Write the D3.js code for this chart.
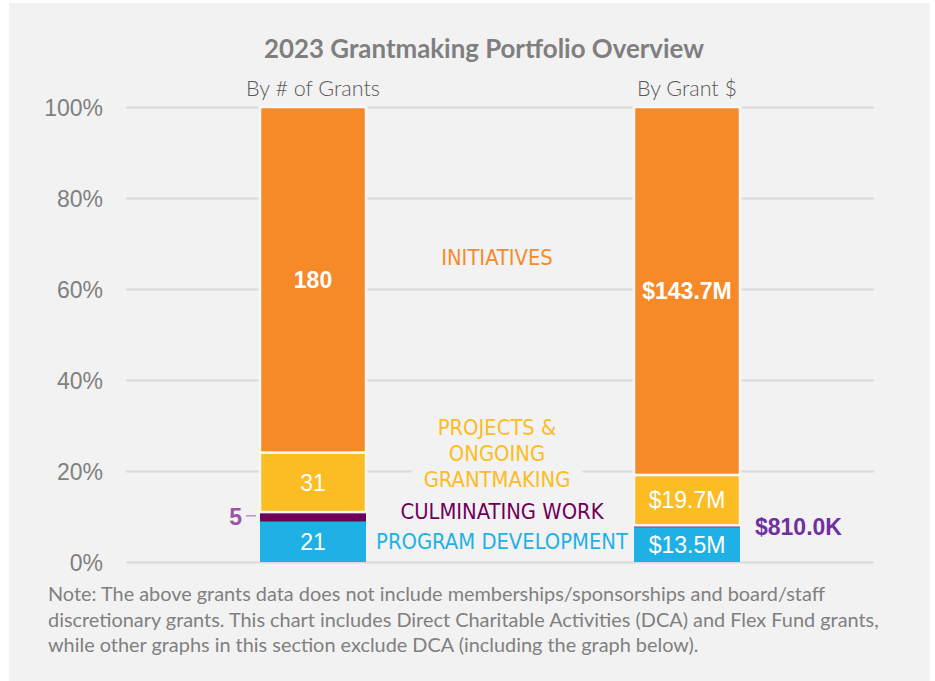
<!DOCTYPE html>
<html>
<head>
<meta charset="utf-8">
<script src="https://cdn.jsdelivr.net/npm/d3@7"></script>
<style type="text/css">
    body{ margin: 0; background: #fff }
    .grid line{ stroke: #d9d9d9; stroke-width: 2 }
    .grid text{ fill: #808080; font-family: "Liberation Sans", Arial, sans-serif; font-size: 23px }
</style>
</head>

<body>
<script type="text/javascript">
var width = 935,
    height = 681;

// data
var columns = ['By # of Grants', 'By Grant $'];
var categories = ['PROGRAM DEVELOPMENT', 'CULMINATING WORK', 'PROJECTS & ONGOING GRANTMAKING', 'INITIATIVES'];
var grantCounts = [21, 5, 31, 180];
var grantDollars = [13.5, 0.81, 19.7, 143.7];   // $M
var countLabels = ['21', '5', '31', '180'];
var dollarLabels = ['$13.5M', '$810.0K', '$19.7M', '$143.7M'];
var yTicks = [0, 0.2, 0.4, 0.6, 0.8, 1];
var titleText = '2023 Grantmaking Portfolio Overview';
var noteLines = [
    'Note: The above grants data does not include memberships/sponsorships and board/staff',
    'discretionary grants. This chart includes Direct Charitable Activities (DCA) and Flex Fund grants,',
    'while other graphs in this section exclude DCA (including the graph below).'
];

var colors = ['#1fb1e6', '#6e005a', '#fcbc23', '#f68a28'];
var catLines = [['PROGRAM DEVELOPMENT'], ['CULMINATING WORK'], ['PROJECTS &', 'ONGOING', 'GRANTMAKING'], ['INITIATIVES']];
var catAt = [0.046, 0.112, 0.24, 0.67];   // where each category name sits on the % axis

var table = columns.map(function(c, i){
    var vals = i === 0 ? grantCounts : grantDollars;
    var labs = i === 0 ? countLabels : dollarLabels;
    var row = { column: c, labels: labs };
    categories.forEach(function(k, j){ row[k] = vals[j]; });
    return row;
});

var series = d3.stack()
    .keys(categories)
    .offset(d3.stackOffsetExpand)(table);

var x = d3.scaleBand()
    .domain(columns)
    .range([126, 874])
    .paddingInner(0.7166)
    .paddingOuter(0.3583);

var y = d3.scaleLinear()
    .domain([0, 1])
    .range([562, 107]);

var svg = d3.select('body')
    .append('svg')
        .attr('width', width)
        .attr('height', height);

svg.append('rect')  // panel
    .attr('x', 9).attr('y', 3)
    .attr('width', 921).attr('height', 678)
    .attr('fill', '#f2f2f2');

// fit a text to a target width by scaling its font size
function fit(sel, target){
    var size = parseFloat(sel.style('font-size'));
    var w = sel.node().getComputedTextLength();
    sel.style('font-size', (size * target / w) + 'px');
}

var title = svg.append('text')
    .attr('x', 484).attr('y', 58)
    .attr('text-anchor', 'middle')
    .style('font-family', 'Lato, "Open Sans", sans-serif')
    .style('font-weight', 'bold')
    .style('font-size', '24px')
    .style('fill', '#7f7f7f')
    .text(titleText);
fit(title, 440);

var subW = [134, 100];
svg.selectAll('text.sub')
    .data(columns)
    .enter()
    .append('text')
        .attr('class', 'sub')
        .attr('x', function(d){ return x(d) + x.bandwidth() / 2; })
        .attr('y', 96)
        .attr('text-anchor', 'middle')
        .style('font-family', 'Lato, "Open Sans", sans-serif')
        .style('font-weight', 300)
        .style('font-size', '21px')
        .style('fill', '#595959')
        .text(function(d){ return d; })
        .each(function(d, i){ fit(d3.select(this), subW[i]); });

// grid + y axis
var grid = svg.append('g')
    .attr('class', 'grid')
    .attr('transform', 'translate(126,0)')
    .call(d3.axisLeft(y)
        .tickValues(yTicks)
        .tickSize(-(874 - 126))
        .tickPadding(23)
        .tickFormat(d3.format('.0%')));
grid.select('.domain').remove();
grid.selectAll('text').attr('dy', '0.36em');

// category names between the bars, on a panel-coloured backing (under the bars)
var midX = (x(columns[0]) + x.bandwidth() + x(columns[1])) / 2;
var cat = svg.selectAll('g.cat')
    .data(categories)
    .enter()
    .append('g')
        .attr('class', 'cat');

var lineH = 26;
var catSize = 23;
cat.each(function(d, i){
    var g = d3.select(this);
    var lines = catLines[i];
    var top = y(catAt[i]) - (lines.length - 1) * lineH / 2;
    g.append('rect').attr('fill', '#f2f2f2');
    var t = g.append('text')
        .attr('text-anchor', 'middle')
        .style('font-family', '"Liberation Sans Narrow", "DejaVu Sans Condensed", sans-serif')
        .style('font-size', catSize + 'px')
        .style('fill', colors[i]);
    lines.forEach(function(l, k){
        t.append('tspan')
            .attr('x', midX + (i < 2 ? 2 : -3))
            .attr('y', top + k * lineH)
            .attr('dy', '0.36em')
            .text(l);
    });
});
// one size for all names, set by the widest one
var widest = cat.filter(function(d, i){ return i === 0; }).select('text');
catSize = catSize * 252 / widest.node().getComputedTextLength();
cat.selectAll('text').style('font-size', catSize + 'px');
cat.each(function(){
    var g = d3.select(this);
    var b = g.select('text').node().getBBox();
    g.select('rect')
        .attr('x', b.x - 12).attr('y', b.y + 2)
        .attr('width', b.width + 24).attr('height', b.height - 4);
});

// bars
var layer = svg.selectAll('g.layer')
    .data(series)
    .enter()
    .append('g')
        .attr('class', 'layer')
        .attr('fill', function(d, i){ return colors[i]; });

layer.selectAll('rect')
    .data(function(d){ return d.map(function(s){ s.key = d.key; s.idx = d.index; return s; }); })
    .enter()
    .append('rect')
        .attr('x', function(d){ return x(d.data.column); })
        .attr('y', function(d){ return y(d[1]); })
        .attr('width', x.bandwidth())
        .attr('height', function(d){ return y(d[0]) - y(d[1]); })
        .attr('stroke', function(d){ return d.idx >= 2 ? '#f6f6f6' : 'none'; })
        .attr('stroke-width', 2.5);

// labels inside the bars
layer.filter(function(d){ return d.index !== 1; })
    .selectAll('text')
    .data(function(d){ return d; })
    .enter()
    .append('text')
        .attr('x', function(d){ return x(d.data.column) + x.bandwidth() / 2; })
        .attr('y', function(d){ return (y(d[0]) + y(d[1])) / 2; })
        .attr('dy', '0.36em')
        .attr('text-anchor', 'middle')
        .style('font-family', '"Liberation Sans", Arial, sans-serif')
        .style('font-size', '23px')
        .style('font-weight', function(d){ return d.idx === 3 ? 'bold' : 'normal'; })
        .style('fill', '#fff')
        .text(function(d){ return d.data.labels[d.idx]; });

// the thin culminating-work slices get outside labels
var thin = series[1];
var c0 = thin[0], c1 = thin[1];
var mid0 = (y(c0[0]) + y(c0[1])) / 2,
    mid1 = (y(c1[0]) + y(c1[1])) / 2;

svg.append('line')
    .attr('x1', x(columns[0]) - 14).attr('x2', x(columns[0]) - 4)
    .attr('y1', mid0 - 1).attr('y2', mid0 - 1)
    .attr('stroke', '#a060aa').attr('stroke-width', 1);

svg.append('text')
    .attr('x', x(columns[0]) - 18).attr('y', mid0)
    .attr('dy', '0.36em')
    .attr('text-anchor', 'end')
    .style('font-family', '"Liberation Sans", Arial, sans-serif')
    .style('font-size', '23px')
    .style('font-weight', 'bold')
    .style('fill', '#9b55a5')
    .text(countLabels[1]);

svg.append('text')
    .attr('x', x(columns[1]) + x.bandwidth() + 15).attr('y', mid1)
    .attr('dy', '0.36em')
    .style('font-family', '"Liberation Sans", Arial, sans-serif')
    .style('font-size', '23px')
    .style('font-weight', 'bold')
    .style('fill', '#7030a0')
    .text(dollarLabels[1]);

// note
var note = svg.selectAll('text.note')
    .data(noteLines)
    .enter()
    .append('text')
        .attr('class', 'note')
        .attr('x', 48)
        .attr('y', function(d, i){ return 601 + i * 25.7; })
        .style('font-family', 'Lato, "Open Sans", sans-serif')
        .style('font-size', '19px')
        .style('fill', '#808080')
        .text(function(d){ return d; });
var totalW = 0;
note.each(function(){ totalW += this.getComputedTextLength(); });
note.style('font-size', (19 * (785 + 825 + 649) / totalW) + 'px');
</script>
</body>
</html>
